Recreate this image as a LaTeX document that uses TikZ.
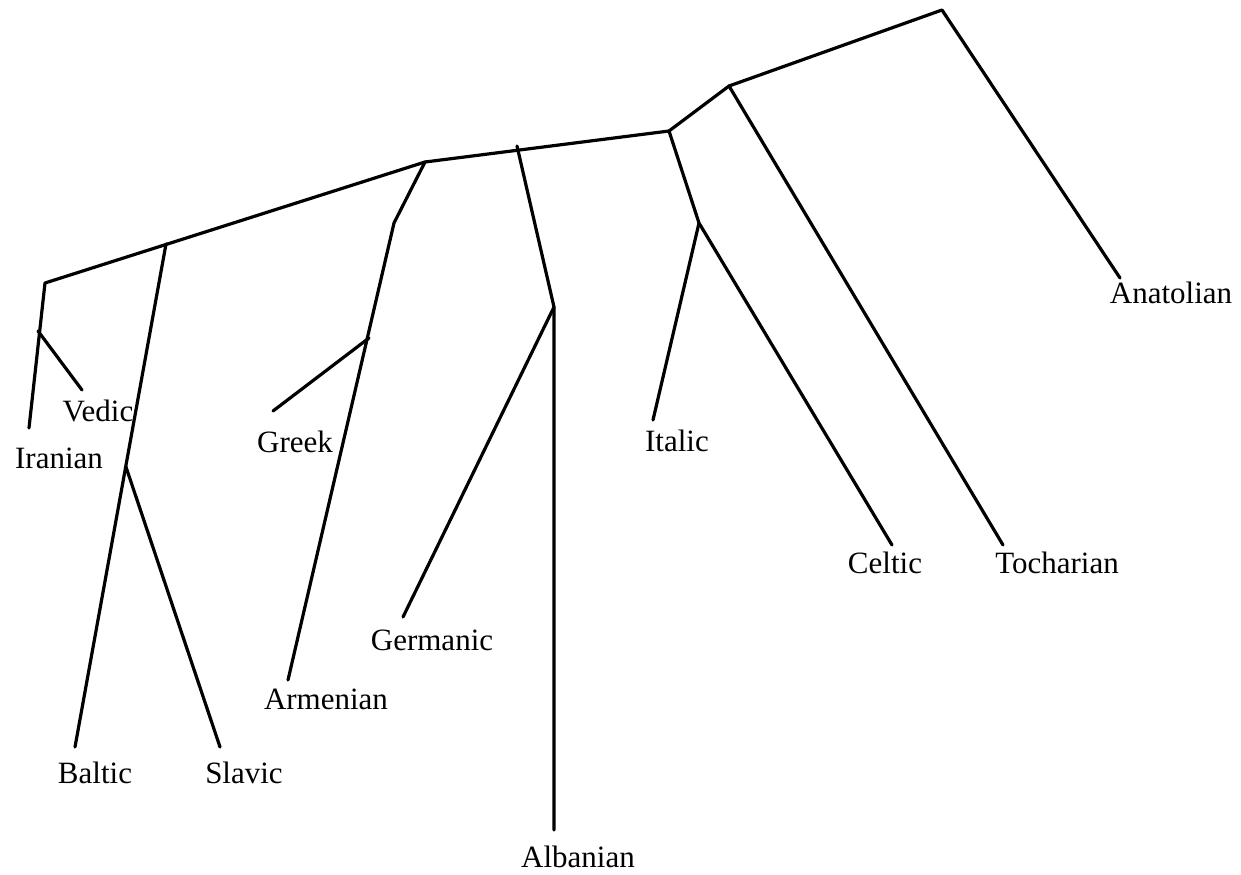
\documentclass[tikz,border=0pt]{standalone}
\usepackage{fontspec}
\setmainfont{Liberation Serif}
\tikzset{branch/.style={line width=1.6pt,line join=round,line cap=round},
  lang/.style={font=\fontsize{15.5}{18}\selectfont,inner sep=0pt}}
\begin{document}
\begin{tikzpicture}[x=0.5pt,y=-0.5pt]
  \useasboundingbox (0,0) rectangle (1241,874);
  % inner nodes of the tree
  \coordinate (root) at (942,10);
  \coordinate (toch) at (729,86);
  \coordinate (ic) at (669,131);
  \coordinate (itc) at (699,223);
  \coordinate (core) at (425,162);
  \coordinate (alb) at (517,146);
  \coordinate (albk) at (554,307);
  \coordinate (armk) at (394,223);
  \coordinate (grk) at (369,338);
  \coordinate (bs) at (166,244);
  \coordinate (ii) at (45,283);
  \coordinate (ved) at (38,331);
  \coordinate (bsk) at (126,467);
  % leaf ends
  \coordinate (anaE) at (1120,278);
  \coordinate (tochE) at (1003,545);
  \coordinate (itaE) at (653,420);
  \coordinate (celE) at (892,545);
  \coordinate (gerE) at (403,617);
  \coordinate (albE) at (554,830);
  \coordinate (armE) at (288,680);
  \coordinate (grkE) at (273,411);
  \coordinate (vedE) at (82,390);
  \coordinate (iraE) at (29,428);
  \coordinate (balE) at (75,747);
  \coordinate (slaE) at (220,747);
  % branches
  \draw[branch] (anaE) -- (root) -- (toch) -- (ic) -- (core) -- (ii) -- (iraE);
  \draw[branch] (toch) -- (tochE);
  \draw[branch] (ic) -- (itc) -- (celE);
  \draw[branch] (itc) -- (itaE);
  \draw[branch] (alb) -- (albk) -- (albE);
  \draw[branch] (albk) -- (gerE);
  \draw[branch] (core) -- (armk) -- (armE);
  \draw[branch] (grk) -- (grkE);
  \draw[branch] (bs) -- (balE);
  \draw[branch] (bsk) -- (slaE);
  \draw[branch] (ved) -- (vedE);
  % labels
  \node[lang] (ana) at (1171,293) {Anatolian};
  \node[lang] (tch) at (1057,563) {Tocharian};
  \node[lang] (cel) at (885,563) {Celtic};
  \node[lang] (ita) at (677,441) {Italic};
  \node[lang] (alban) at (578,857) {Albanian};
  \node[lang] (ger) at (432,640) {Germanic};
  \node[lang] (arm) at (326,699) {Armenian};
  \node[lang] (gre) at (295,442) {Greek};
  \node[lang] (vedic) at (98,411) {Vedic};
  \node[lang] (ira) at (59,458) {Iranian};
  \node[lang] (bal) at (95,773) {Baltic};
  \node[lang] (sla) at (244,773) {Slavic};
\end{tikzpicture}
\end{document}
